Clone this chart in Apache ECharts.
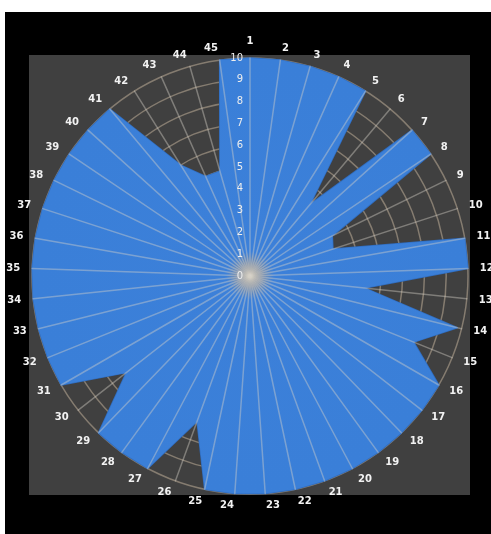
<!DOCTYPE html>
<html>
<head>
<meta charset="utf-8">
<script src="https://cdn.jsdelivr.net/npm/echarts@6/dist/echarts.min.js"></script>
<style>
html,body{margin:0;padding:0;background:#fff;}
#c{width:491px;height:534px;}
</style>
</head>
<body>
<div id="c"></div>
<script>
// Spoke labels, clockwise from the top
const categories = ['1','2','3','4','5','6','7','8','9','10','11','12','13','14','15','16','17','18','19','20','21','22','23','24','25','26','27','28','29','30','31','32','33','34','35','36','37','38','39','40','41','42','43','44','45'];
// Value at each spoke (same order as categories)
const values = [10,10,10,10,10,4.3,10,10,4.2,4.0,10,10,5.3,9.8,8.1,10,10,10,10,10,10,10,10,10,10,7.1,10,10,10,7.2,10,10,10,10,10,10,10,10,10,10,10,6.0,5.0,5.0,10];
const radialTicks = [0,1,2,3,4,5,6,7,8,9,10];
const maxValue = 10;

// ECharts radar runs counter-clockwise; reorder so the spokes read clockwise
const order = [0].concat(categories.map((_, i) => i).slice(1).reverse());
const indicators = order.map((i, k) => {
  const ind = { name: categories[i], min: 0, max: maxValue };
  if (k === 0) ind.axisLabel = { show: true };
  return ind;
});
const orderedValues = order.map(i => values[i]);

const center = [250, 276];
const radius = 218;

const chart = echarts.init(document.getElementById('c'));
chart.setOption({
  backgroundColor: '#ffffff',
  animation: false,
  graphic: [
    { type: 'rect', z: -100, shape: { x: 5, y: 12, width: 486, height: 522 }, style: { fill: '#000000' } },
    { type: 'rect', z: -99, shape: { x: 29, y: 55, width: 441, height: 440 }, style: { fill: '#404040' } }
  ],
  radar: [
    {
      center: center, radius: radius, startAngle: 90, shape: 'circle',
      splitNumber: radialTicks.length - 1,
      indicator: indicators.map(d => ({ name: d.name, min: d.min, max: d.max })),
      axisName: { show: false },
      axisLine: { show: false },
      axisTick: { show: false },
      axisLabel: { show: false },
      splitArea: { show: false },
      splitLine: { show: true, lineStyle: { color: '#857c70', width: 1.5 } },
      z: 0
    },
    {
      center: center, radius: radius, startAngle: 90, shape: 'circle',
      splitNumber: radialTicks.length - 1,
      indicator: indicators,
      nameGap: 12,
      axisName: { show: true, color: '#f2f2f2', fontSize: 10, fontWeight: 'bold', fontFamily: 'DejaVu Sans' },
      axisLine: { show: true, lineStyle: { color: 'rgba(215,210,200,0.42)', width: 1.5 } },
      axisTick: { show: false },
      axisLabel: { show: false, color: '#eeeeee', fontSize: 10, fontFamily: 'DejaVu Sans', margin: 7 },
      splitArea: { show: false },
      splitLine: { show: false },
      z: 3
    }
  ],
  series: [{
    type: 'radar',
    radarIndex: 1,
    z: 2,
    symbol: 'none',
    lineStyle: { color: '#2f6cbf', width: 1.5 },
    areaStyle: {
      opacity: 1,
      color: {
        type: 'radial', x: 0.5, y: 0.5, r: 0.5,
        colorStops: [
          { offset: 0, color: '#9a948a' },
          { offset: 0.05, color: '#7f8fa6' },
          { offset: 0.11, color: '#3c80d9' },
          { offset: 1, color: '#3a7fd8' }
        ]
      }
    },
    data: [{ value: orderedValues, name: 'Series' }]
  }]
});
</script>
</body>
</html>
